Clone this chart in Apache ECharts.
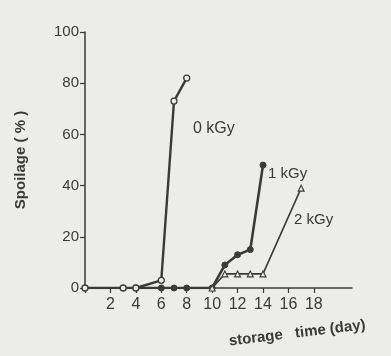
<!DOCTYPE html>
<html><head><meta charset="utf-8">
<script src="https://cdn.jsdelivr.net/npm/echarts@6/dist/echarts.min.js"></script>
<style>html,body{margin:0;padding:0;background:#ececea}#c{width:391px;height:356px}</style>
</head><body><div id="c"></div>
<script>
const xTickLabels = [2, 4, 6, 8, 10, 12, 14, 16, 18];
const yTickLabels = [0, 20, 40, 60, 80, 100];
const days0 = [0, 3, 4, 6, 7, 8];
const spoil0 = [0, 0, 0, 3, 73, 82];
const days1 = [4, 6, 7, 8, 10, 11, 12, 13, 14];
const spoil1 = [0, 0, 0, 0, 0, 9, 13, 15, 48];
const days2 = [10, 11, 12, 13, 14, 17];
const spoil2 = [0, 5.5, 5.5, 5.5, 5.5, 39];
const seriesNames = ['0 kGy', '1 kGy', '2 kGy'];

const ink = '#3a3a3a';
const bg = '#ececea';
const font = 'Liberation Sans';
const pair = (xs, ys) => xs.map((x, i) => [x, ys[i]]);

const chart = echarts.init(document.getElementById('c'));
chart.setOption({
  backgroundColor: bg,
  animation: false,
  grid: { left: 85, right: 39, top: 32, bottom: 68 },
  xAxis: {
    type: 'value', min: 0, max: 21, interval: 2,
    splitLine: { show: false },
    axisLine: { lineStyle: { color: ink, width: 1.5 } },
    axisTick: { customValues: [0].concat(xTickLabels), length: 5, lineStyle: { color: ink, width: 1.2 } },
    axisLabel: { customValues: xTickLabels, color: ink, fontSize: 16, fontFamily: font, margin: 9 }
  },
  yAxis: {
    type: 'value', min: 0, max: 100, interval: 20,
    name: 'Spoilage ( % )', nameLocation: 'middle', nameGap: 57,
    nameTextStyle: { color: ink, fontSize: 15, fontWeight: 'bold', fontFamily: font },
    splitLine: { show: false },
    axisLine: { show: true, lineStyle: { color: ink, width: 1.5 } },
    axisTick: { show: true, length: 5, lineStyle: { color: ink, width: 1.2 } },
    axisLabel: { color: ink, fontSize: 15, fontFamily: font, margin: 6,
      formatter: v => yTickLabels.includes(v) ? String(v) : '' }
  },
  series: [
    { name: seriesNames[0], type: 'line', data: pair(days0, spoil0),
      symbol: 'circle', symbolSize: 6, z: 3,
      lineStyle: { color: ink, width: 2.4 },
      itemStyle: { color: bg, borderColor: ink, borderWidth: 1.3 } },
    { name: seriesNames[1], type: 'line', data: pair(days1, spoil1),
      symbol: 'circle', symbolSize: 6, z: 2,
      lineStyle: { color: ink, width: 2.6 },
      itemStyle: { color: ink, borderColor: ink, borderWidth: 1 } },
    { name: seriesNames[2], type: 'line', data: pair(days2, spoil2),
      symbol: 'triangle', symbolSize: 6, z: 4,
      lineStyle: { color: ink, width: 1.6 },
      itemStyle: { color: bg, borderColor: ink, borderWidth: 1.1 } }
  ],
  graphic: [
    { type: 'text', left: 193, top: 121, style: { text: seriesNames[0], fill: ink, font: '16px "Liberation Sans"' } },
    { type: 'text', left: 268, top: 166, style: { text: seriesNames[1], fill: ink, font: '15px "Liberation Sans"' } },
    { type: 'text', left: 294, top: 212, style: { text: seriesNames[2], fill: ink, font: '15px "Liberation Sans"' } },
    { type: 'text', x: 228, y: 334, rotation: 0.12, style: { text: 'storage   time (day)', fill: ink, font: 'bold 15px "Liberation Sans"' } }
  ]
});
</script></body></html>
